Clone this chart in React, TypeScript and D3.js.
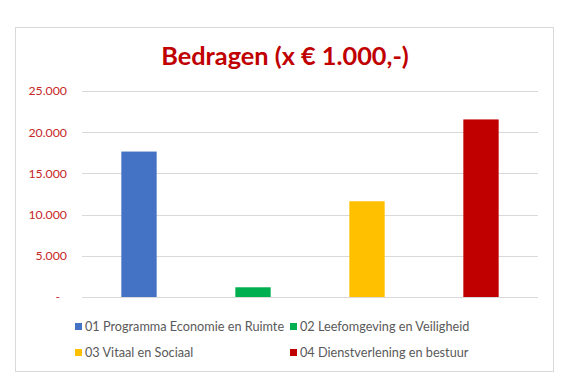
import * as d3 from 'd3';
import React, { useEffect, useRef } from 'react';

// Data
const categories = [
  '01 Programma Economie en Ruimte',
  '02 Leefomgeving en Veiligheid',
  '03 Vitaal en Sociaal',
  '04 Dienstverlening en bestuur',
];
const amounts = [17650, 1180, 11620, 21550];
const barColors = ['#4472C4', '#00B050', '#FFC000', '#C00000'];
const yTicks = [0, 5000, 10000, 15000, 20000, 25000];
const title = 'Bedragen (x € 1.000,-)';

const nl = d3.formatLocale({ decimal: ',', thousands: '.', grouping: [3], currency: ['€ ', ''] });
const fmt = (v: number) => (v === 0 ? '-' : nl.format(',.0f')(v));

const App = () => {
  const ref = useRef<SVGSVGElement | null>(null);

  useEffect(() => {
    if (!ref.current) return;
    const svg = d3.select(ref.current);
    svg.selectAll('*').remove();

    const plot = { left: 82, right: 538, top: 91, bottom: 297 };
    const font = 'Lato, "Open Sans", sans-serif';

    // chart frame
    svg.append('rect')
      .attr('x', 15.5).attr('y', 27.5)
      .attr('width', 538).attr('height', 344)
      .attr('fill', '#fff').attr('stroke', '#D9D9D9');

    // title
    svg.append('text')
      .attr('x', 285).attr('y', 65)
      .attr('text-anchor', 'middle')
      .attr('font-family', font).attr('font-weight', 700)
      .attr('font-size', 25.3)
      .attr('fill', '#C00000')
      .text(title);

    const x = d3.scaleBand()
      .domain(categories)
      .range([plot.left, plot.right])
      .paddingInner(0.69)
      .paddingOuter(0.345);

    const y = d3.scaleLinear()
      .domain([0, 25000])
      .range([plot.bottom, plot.top]);

    // gridlines
    svg.append('g')
      .selectAll('line')
      .data(yTicks)
      .join('line')
      .attr('x1', plot.left).attr('x2', plot.right)
      .attr('y1', d => Math.round(y(d)) + 0.5)
      .attr('y2', d => Math.round(y(d)) + 0.5)
      .attr('stroke', '#D9D9D9')
      .attr('stroke-width', 1.2);

    // y labels
    svg.append('g')
      .selectAll('text')
      .data(yTicks)
      .join('text')
      .attr('x', d => (d === 0 ? plot.left - 22 : plot.left - 15))
      .attr('y', d => y(d))
      .attr('dy', '0.35em')
      .attr('text-anchor', 'end')
      .attr('font-family', font)
      .attr('font-size', 12.3)
      .attr('fill', '#C62828')
      .text(d => fmt(d));

    // bars
    svg.append('g')
      .selectAll('rect')
      .data(amounts)
      .join('rect')
      .attr('x', (d, i) => x(categories[i])!)
      .attr('y', d => y(d))
      .attr('width', x.bandwidth())
      .attr('height', d => y(0) - y(d))
      .attr('fill', (d, i) => barColors[i]);

    // legend, two columns x two rows
    const legend = svg.append('g')
      .selectAll('g')
      .data(categories)
      .join('g')
      .attr('transform', (d, i) => `translate(${i % 2 === 0 ? 75 : 290},${i < 2 ? 326.5 : 352.5})`);

    legend.append('rect')
      .attr('x', 0).attr('y', -3.5)
      .attr('width', 7).attr('height', 7)
      .attr('fill', (d, i) => barColors[i]);

    legend.append('text')
      .attr('x', 10).attr('y', 0)
      .attr('dy', '0.35em')
      .attr('font-family', font)
      .attr('font-size', 12.7)
      .attr('fill', '#595959')
      .text(d => d);
  }, []);

  return (
    <div style={{ position: 'absolute', left: 0, top: 0 }}>
      <svg ref={ref} width={580} height={386} style={{ display: 'block' }} />
    </div>
  );
};

export default App;
